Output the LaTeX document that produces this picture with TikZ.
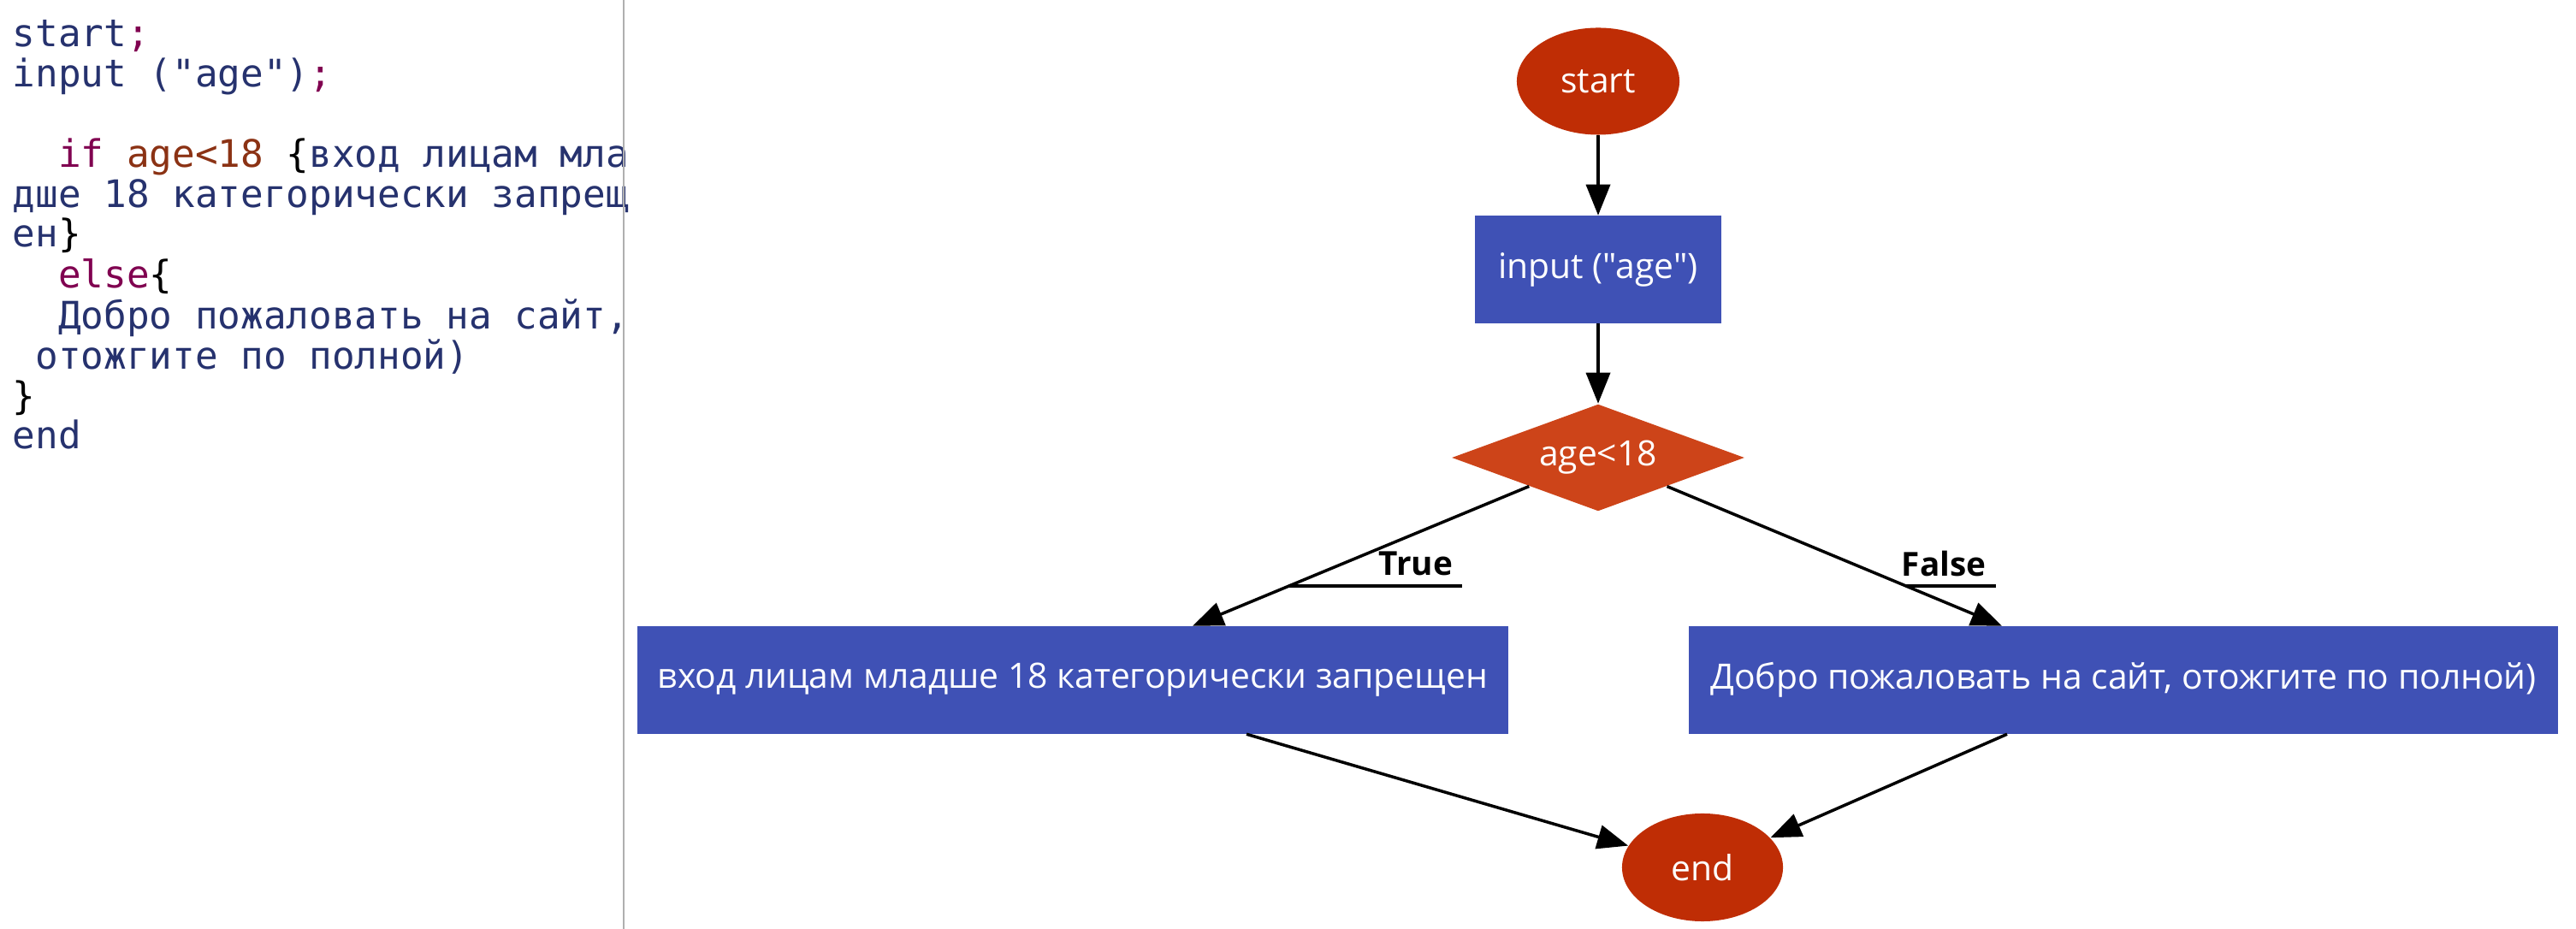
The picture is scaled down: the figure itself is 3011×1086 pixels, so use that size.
\documentclass[tikz,border=0pt]{standalone}
\usepackage{fontspec}
\setmainfont{Open Sans}[Ligatures=TeXOff]
\newfontfamily\codefont{DejaVu Sans Mono}
\usepackage{tikz}
\usetikzlibrary{shapes.geometric, arrows.meta, calc}
\definecolor{termred}{RGB}{191, 45, 5}
\definecolor{condorange}{RGB}{205, 68, 25}
\definecolor{stepblue}{RGB}{63, 81, 181}
\definecolor{codenavy}{RGB}{38, 50, 110}
\definecolor{codekey}{RGB}{128, 0, 80}
\definecolor{codeval}{RGB}{139, 50, 20}
\definecolor{rulegray}{RGB}{175, 175, 175}

\begin{document}
\begin{tikzpicture}[
        x=0.01cm, y=-0.01cm,
        terminal/.style={ellipse, fill=termred, text=white, inner sep=0pt, minimum width=1.9cm, minimum height=1.25cm, font=\fontsize{11.6pt}{14pt}\selectfont},
        process/.style={rectangle, fill=stepblue, text=white, minimum height=1.25cm, font=\fontsize{11.6pt}{14pt}\selectfont},
        decision/.style={diamond, fill=condorange, text=white, inner sep=0pt, aspect=2.74, minimum width=3.42cm, minimum height=1.25cm, font=\fontsize{11.6pt}{14pt}\selectfont},
        flow/.style={-{Triangle[length=3.6mm, width=2.8mm]}, line width=1pt, draw=black},
        edgelabel/.style={inner sep=3pt, font=\bfseries\fontsize{11pt}{13pt}\selectfont},
        codeline/.style={anchor=base west, inner sep=0pt, text=codenavy, font=\codefont\fontsize{12.6pt}{15pt}\selectfont}
    ]
        \useasboundingbox (0,0) rectangle (3011,1086);

        % Code
        \node[codeline] (c1) at (14,55) {start\textcolor{codekey}{;}};
        \node[codeline] (c2) at (14,102) {input ("age")\textcolor{codekey}{;}};
        \node[codeline] (c4) at (14,196) {~~\textcolor{codekey}{if} \textcolor{codeval}{age<18} \textcolor{black}{\{}вход лицам мла};
        \node[codeline] (c5) at (14,243) {дше 18 категорически запрещ};
        \node[codeline] (c6) at (14,289) {ен\textcolor{black}{\}}};
        \node[codeline] (c7) at (14,337) {~~\textcolor{codekey}{else}\textcolor{black}{\{}};
        \node[codeline] (c8) at (14,385) {~~Добро пожаловать на сайт,};
        \node[codeline] (c9) at (14,432) {~отожгите по полной)};
        \node[codeline] (c10) at (14,479) {\textcolor{black}{\}}};
        \node[codeline] (c11) at (14,525) {end};

        \draw[rulegray, line width=0.6pt] (729,0) -- (729,1086);

        % Nodes
        \node[terminal] (start) at (1868,95) {start};
        \node[process, minimum width=2.87cm] (input) at (1868,315) {input ("age")};
        \node[decision] (cond) at (1868,535) {age<18};
        \node[process, minimum width=10.17cm] (deny) at (1254,795) {вход лицам младше 18 категорически запрещен};
        \node[process, minimum width=10.16cm] (allow) at (2482,795) {Добро пожаловать на сайт, отожгите по полной)};
        \node[terminal, minimum width=1.88cm, minimum height=1.26cm] (stop) at (1990,1014) {end};

        \node[edgelabel] (tl) at (1655,659) {True};
        \node[edgelabel] (fl) at (2272,659) {False};

        % Edges
        \draw[flow] (start) -- (input);
        \draw[flow] (input) -- (cond);
        \draw[flow] (cond) -- coordinate[pos=0.714] (tu) ($(deny.north)+(140,0)$);
        \draw[flow] (cond) -- coordinate[pos=0.714] (fu) ($(allow.north)+(-142,0)$);
        \draw[line width=1pt] (tu) -- (tu -| tl.east);
        \draw[line width=1pt] (fu) -- (fu -| fl.east);
        \draw[flow] ($(deny.south)+(203,0)$) -- (stop);
        \draw[flow] ($(allow.south)+(-136,0)$) -- (stop);

    \end{tikzpicture}
\end{document}
